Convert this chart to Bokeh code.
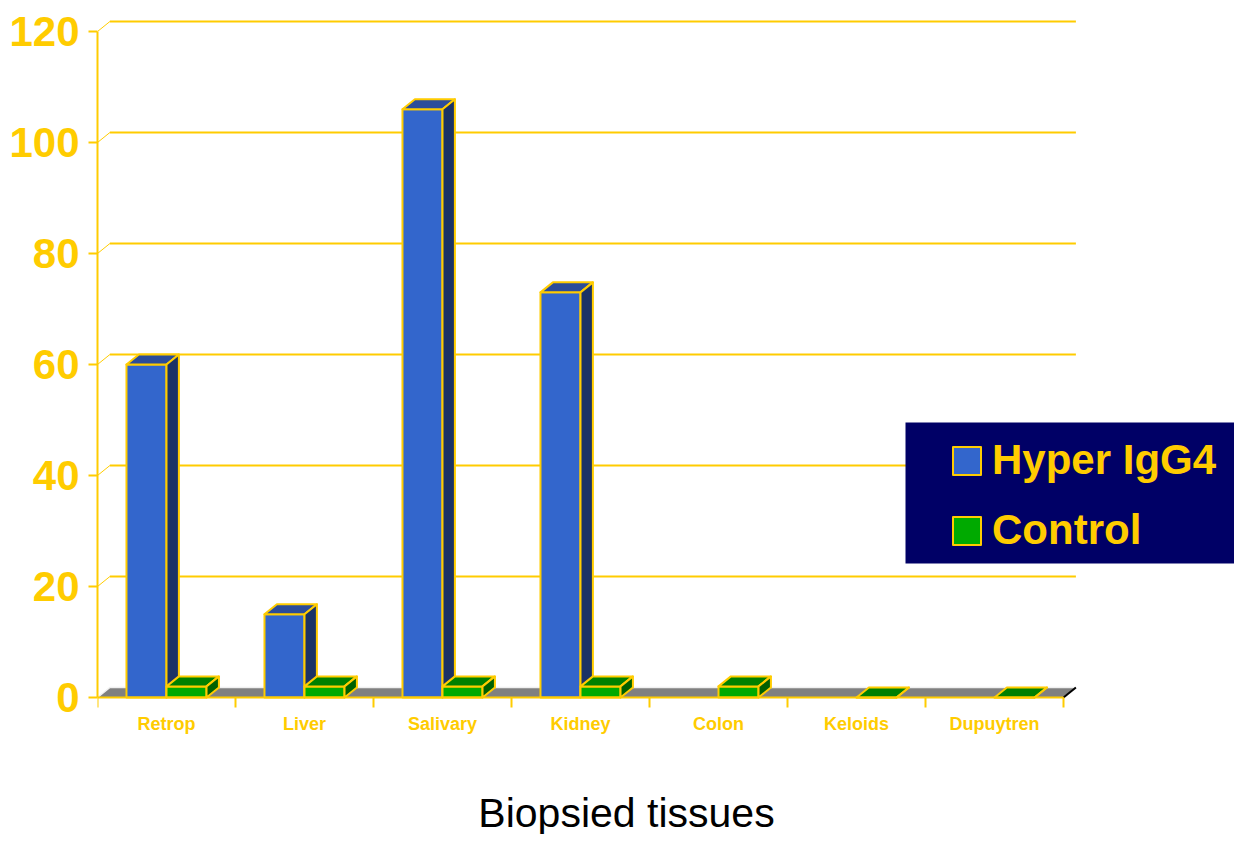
from bokeh.plotting import figure
from bokeh.models import (Range1d, FixedTicker, Legend, LegendItem, BoxAnnotation, Label)
from bokeh.embed import file_html
from bokeh.resources import INLINE

# ---- data ----
categories = ["Retrop", "Liver", "Salivary", "Kidney", "Colon", "Keloids", "Dupuytren"]
hyper_igg4 = [60, 15, 106, 73, None, None, None]
control = [2, 2, 2, 2, 2, 0, 0]
y_ticks = [0, 20, 40, 60, 80, 100, 120]
x_title = "Biopsied tissues"
series_names = ["Hyper IgG4", "Control"]

GOLD = "#FFCC00"
PX_X = 138.0
PX_Y = 5.55
DX = 12.4 / PX_X   # depth offset in x units
DY = 10.0 / PX_Y   # depth offset in y units
BW = 0.29          # bar width

W, H = 1234, 834
LEFT, TOP, ZERO_Y = 97, 14, 697

n = len(categories)
p = figure(width=W, height=H, output_backend="svg", toolbar_location=None,
           x_range=Range1d(0, (W - LEFT) / PX_X),
           y_range=Range1d(-(H - ZERO_Y) / PX_Y, (ZERO_Y - TOP) / PX_Y),
           min_border_left=LEFT, min_border_right=0, min_border_top=TOP,
           min_border_bottom=0)
p.outline_line_color = None
p.xgrid.visible = False
p.ygrid.visible = False

# back-wall gridlines
gy = [v + DY for v in y_ticks[1:]]
p.segment(x0=[DX] * len(gy), y0=gy, x1=[n + DX] * len(gy), y1=gy, line_color=GOLD, line_width=2)
p.segment(x0=[0] * len(gy), y0=y_ticks[1:], x1=[DX] * len(gy), y1=gy,
          line_color=GOLD, line_width=1)

# floor
p.patch(x=[0, n, n + DX, DX], y=[0, 0, DY, DY], fill_color="#808080", line_color=None)
p.line(x=[0, DX, n + DX], y=[0, DY, DY], line_color="#F0F0F0", line_width=1.5)
p.line(x=[n, n + DX], y=[0, DY], line_color="black", line_width=2)


def bar_faces(x0s, vals):
    fx, fy, tx, ty, sx, sy = [], [], [], [], [], []
    for x0, v in zip(x0s, vals):
        if v is None:
            continue
        x1 = x0 + BW
        fx.append([x0, x1, x1, x0]); fy.append([0, 0, v, v])
        tx.append([x0, x1, x1 + DX, x0 + DX]); ty.append([v, v, v + DY, v + DY])
        sx.append([x1, x1 + DX, x1 + DX, x1]); sy.append([0, DY, v + DY, v])
    return fx, fy, tx, ty, sx, sy


centers = [i + 0.5 for i in range(n)]
series = [
    (hyper_igg4, [c - BW for c in centers], ("#3366CC", "#2B4C9A", "#1B3366")),
    (control, centers, ("#00AA00", "#008000", "#006000")),
]
renders = []
for i in range(n):
    for s_idx, (vals, x0s, cols) in enumerate(series):
        fx, fy, tx, ty, sx, sy = bar_faces([x0s[i]], [vals[i]])
        if not fx:
            continue
        r = p.patches(xs=fx, ys=fy, fill_color=cols[0], line_color=GOLD, line_width=2, line_join="round")
        p.patches(xs=tx, ys=ty, fill_color=cols[1], line_color=GOLD, line_width=2, line_join="round")
        p.patches(xs=sx, ys=sy, fill_color=cols[2], line_color=GOLD, line_width=2, line_join="round")
        if len(renders) <= s_idx:
            renders.append(r)

# axes
ya = p.yaxis[0]
ya.ticker = FixedTicker(ticks=y_ticks)
ya.bounds = (0, 120)
ya.axis_line_color = GOLD
ya.axis_line_width = 2
ya.major_tick_line_color = GOLD
ya.major_tick_line_width = 2
ya.major_tick_in = 0
ya.major_tick_out = 9
ya.minor_tick_line_color = None
ya.major_label_standoff = 9
ya.major_label_text_font = "Liberation Sans"
ya.major_label_text_font_style = "bold"
ya.major_label_text_font_size = "42px"
ya.major_label_text_color = GOLD

xa = p.xaxis[0]
xa.fixed_location = 0
xa.ticker = FixedTicker(ticks=centers, minor_ticks=list(range(n + 1)))
xa.major_label_overrides = {c: name for c, name in zip(centers, categories)}
xa.bounds = (0, n)
xa.axis_line_color = GOLD
xa.axis_line_width = 2
xa.major_tick_line_color = None
xa.minor_tick_line_color = GOLD
xa.minor_tick_line_width = 2
xa.minor_tick_in = 0
xa.minor_tick_out = 10
xa.major_tick_out = 10
xa.major_label_standoff = 6
xa.major_label_text_font = "Liberation Sans"
xa.major_label_text_font_style = "bold"
xa.major_label_text_font_size = "18px"
xa.major_label_text_color = GOLD

# x title
title = Label(x=(626 - LEFT) / PX_X, y=-(812 - ZERO_Y) / PX_Y, text=x_title,
              text_align="center", text_baseline="middle",
              text_font="Liberation Sans", text_font_size="41px", text_color="black")
p.add_layout(title)

# legend box
box = BoxAnnotation(left=(905 - LEFT) / PX_X, bottom=(ZERO_Y - 563) / PX_Y,
                    top=(ZERO_Y - 422) / PX_Y,
                    fill_color="#000066", fill_alpha=1.0, line_color=None)
p.add_layout(box)

legend = Legend(items=[LegendItem(label=series_names[k], renderers=[renders[k]]) for k in range(2)],
                location=(852, 143 + (H - ZERO_Y)), padding=0, spacing=22,
                glyph_width=35, glyph_height=35,
                label_standoff=8, background_fill_alpha=0, border_line_color=None,
                label_text_font="Liberation Sans", label_text_font_style="bold",
                label_text_font_size="42px", label_text_color=GOLD)
p.add_layout(legend, "center")

open("out.html", "w").write(file_html(p, INLINE))
